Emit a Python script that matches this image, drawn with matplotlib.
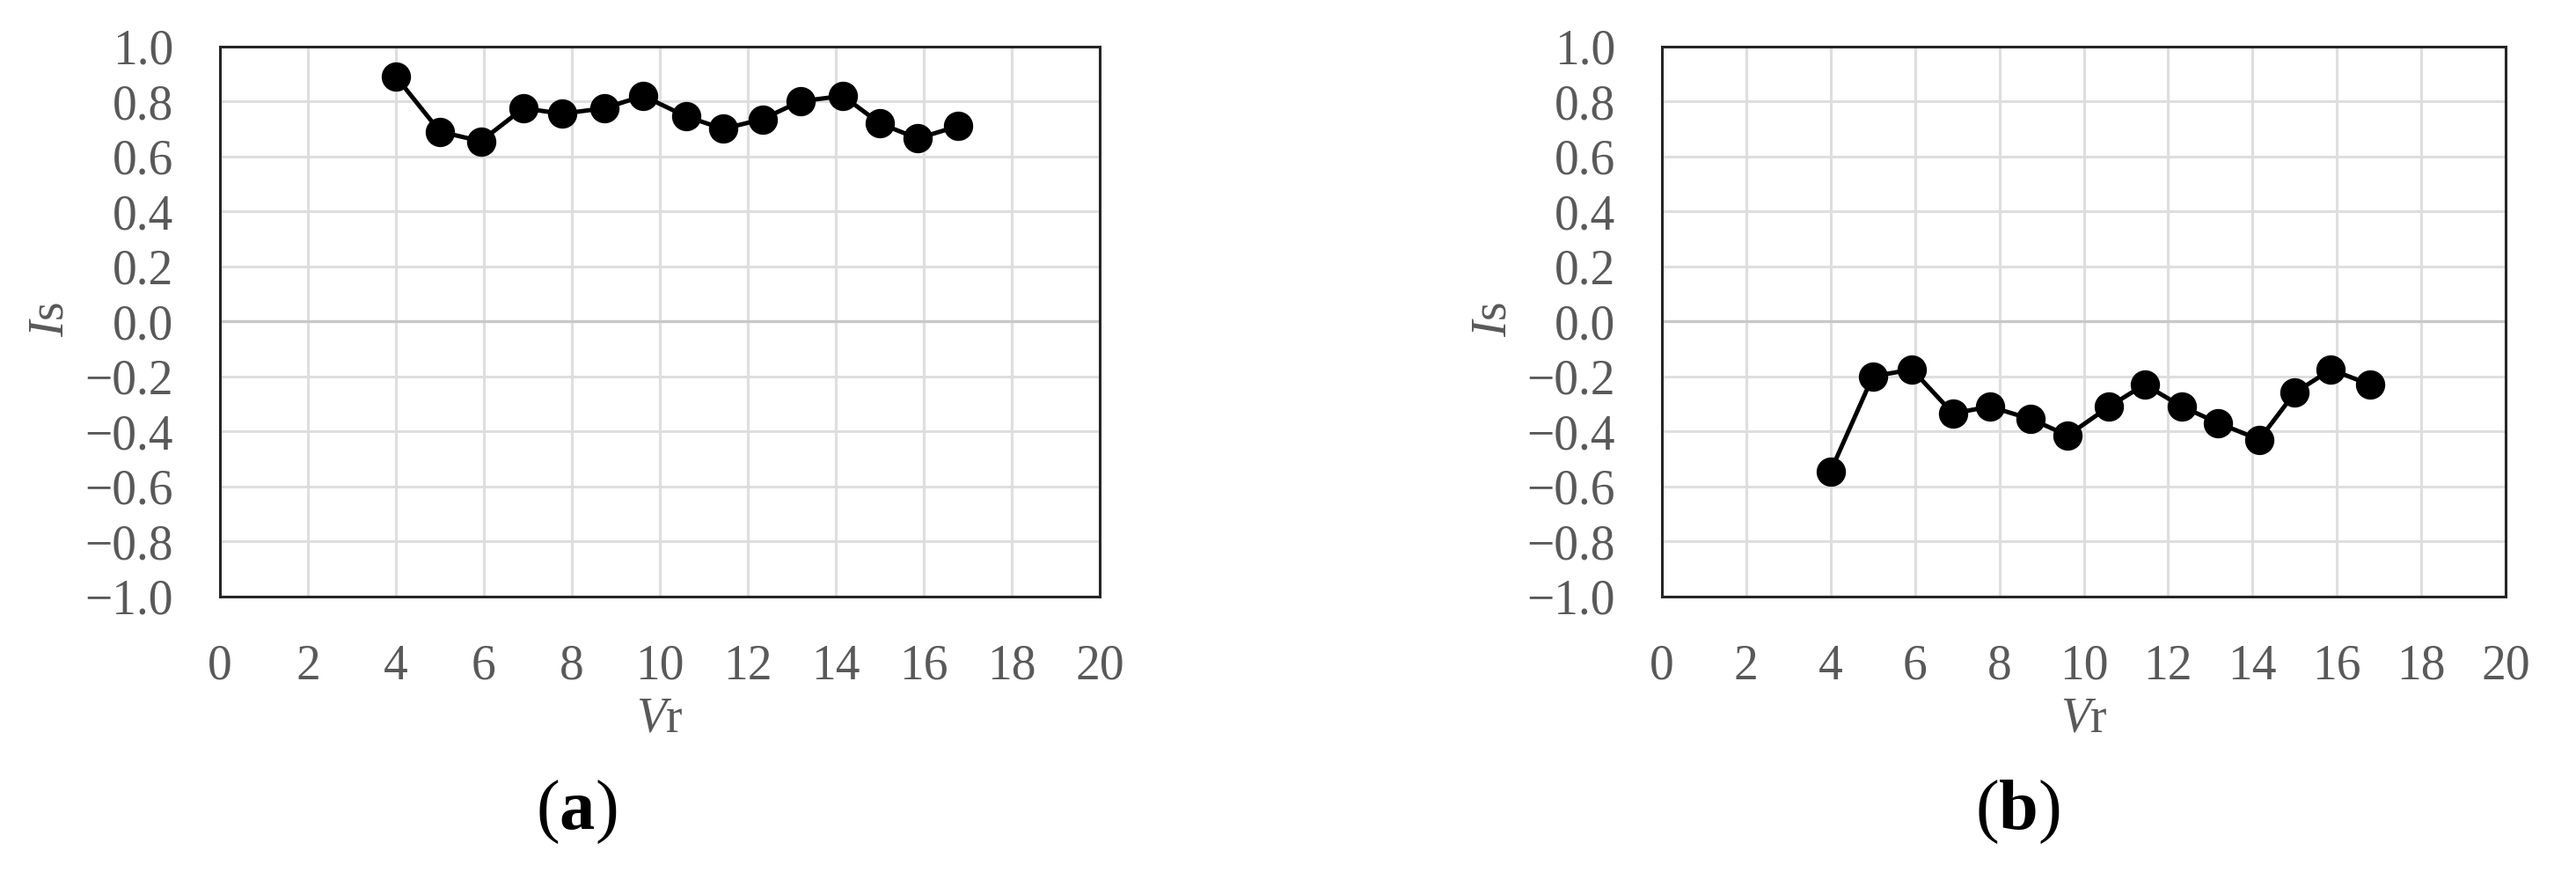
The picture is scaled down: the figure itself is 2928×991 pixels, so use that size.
import matplotlib
matplotlib.use("Agg")
import matplotlib.pyplot as plt

plt.rcParams["font.family"] = ["Liberation Serif", "DejaVu Serif"]
plt.rcParams["mathtext.fontset"] = "custom"
plt.rcParams["mathtext.rm"] = "Liberation Serif"
plt.rcParams["mathtext.it"] = "Liberation Serif:italic"
plt.rcParams["mathtext.bf"] = "Liberation Serif:bold"

# Vr values (shared by both panels)
vr = [4.0, 5.0, 5.93, 6.9, 7.77, 8.74, 9.62, 10.6, 11.44, 12.33,
      13.19, 14.16, 15.0, 15.86, 16.78]
# Is values, panel (a) and (b)
is_a = [0.89, 0.69, 0.655, 0.775, 0.755, 0.775, 0.82, 0.745, 0.70, 0.735,
        0.80, 0.82, 0.72, 0.665, 0.71]
is_b = [-0.545, -0.20, -0.175, -0.335, -0.31, -0.355, -0.415, -0.31, -0.23, -0.31,
        -0.37, -0.43, -0.26, -0.175, -0.23]

xticks = list(range(0, 21, 2))
yticks = [-1.0, -0.8, -0.6, -0.4, -0.2, 0.0, 0.2, 0.4, 0.6, 0.8, 1.0]
panel_names = ["a", "b"]

W, H = 2928, 991
fig = plt.figure(figsize=(W / 100, H / 100), dpi=100)

# axes boxes in pixels: left, right, top, bottom
boxes = [(250, 1250, 52.7, 677.7), (1889, 2848, 52.7, 677.7)]
tag_x = [655, 2293]
tag_y = 923
grey = "#595959"


def setConfig(ax, xs, ys):
    ax.plot(xs, ys, color="black", lw=3.6, marker="o", ms=23, zorder=5)
    ax.axhline(0, color="#c8c8c8", lw=2.4, zorder=2)
    ax.set_xlim(0, 20)
    ax.set_ylim(-1, 1)
    ax.set_xticks(xticks)
    ax.set_yticks(yticks)
    ax.set_yticklabels(["\u2212%.1f" % -v if v < 0 else "%.1f" % v for v in yticks])
    ax.grid(True, color="#dedede", lw=2.2, zorder=1)
    ax.set_axisbelow(True)
    ax.tick_params(length=0, labelsize=40, labelcolor=grey)
    ax.tick_params(axis="x", pad=39)
    ax.tick_params(axis="y", pad=38)
    for s in ax.spines.values():
        s.set_color("#262626")
        s.set_linewidth(2.2)
    ax.set_xlabel(r"$\mathit{V}\mathrm{r}$", fontsize=40, color=grey)
    ax.set_ylabel(r"$\mathit{I}\mathrm{s}$", fontsize=40, color=grey)


for i, (l, r, t, b) in enumerate(boxes):
    ax = fig.add_axes([l / W, 1 - b / H, (r - l) / W, (b - t) / H])
    ys = is_a if i == 0 else is_b
    setConfig(ax, vr, ys)
    ax.xaxis.set_label_coords(0.5, -(817 - b) / (b - t))
    ax.xaxis.label.set_va("center")
    ax.yaxis.set_label_coords(-192 / (r - l), 1 - (363 - t) / (b - t))
    ax.yaxis.label.set_va("center")
    ax.yaxis.label.set_ha("center")
    fig.text(tag_x[i] / W, 1 - tag_y / H, r"($\mathbf{%s}$)" % panel_names[i],
             fontsize=58, ha="center", va="center", color="black")

fig.savefig("out.png", dpi=100, facecolor="white")
